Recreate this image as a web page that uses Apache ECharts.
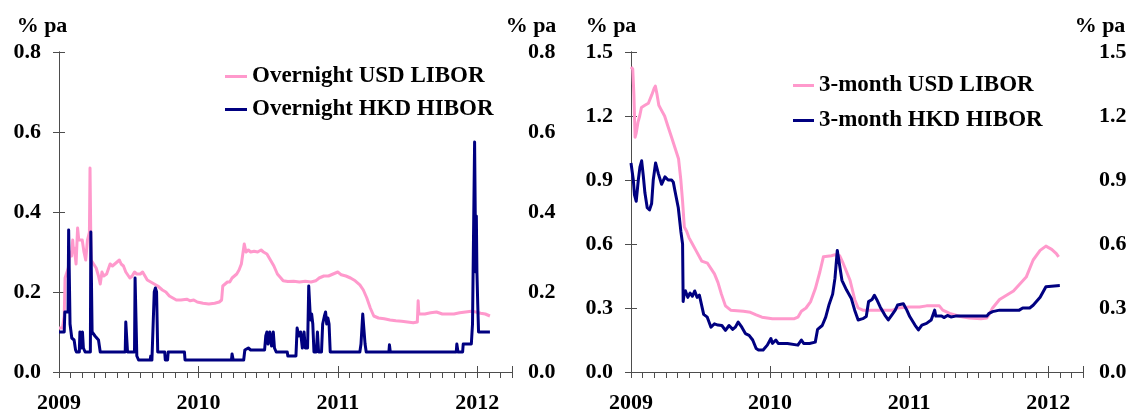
<!DOCTYPE html>
<html><head><meta charset="utf-8">
<script src="https://cdn.jsdelivr.net/npm/echarts@6.0.0/dist/echarts.min.js"></script>
<style>html,body{margin:0;padding:0;background:#fff}#c{width:1131px;height:412px}</style>
</head><body><div id="c"></div>
<script>
// x = months since 1 Jan 2009
const firstYear = 2009;
const xMaxMonths = 39;
const unitLabel = '% pa';
const leftAxisMax = 0.8, leftAxisStep = 0.2;
const rightAxisMax = 1.5, rightAxisStep = 0.3;
const seriesNames = ['Overnight USD LIBOR','Overnight HKD HIBOR','3-month USD LIBOR','3-month HKD HIBOR'];

const usdOvernight = [[0,0.11],[0.3,0.11],[0.45,0.14],[0.52,0.235],[0.65,0.23],[0.8,0.26],[0.95,0.3],[1.09,0.29],[1.18,0.33],[1.25,0.3],[1.32,0.31],[1.47,0.27],[1.6,0.36],[1.7,0.33],[1.85,0.33],[2.0,0.33],[2.15,0.3],[2.3,0.28],[2.45,0.33],[2.62,0.35],[2.67,0.51],[2.72,0.51],[2.76,0.28],[2.98,0.27],[3.2,0.26],[3.4,0.24],[3.55,0.22],[3.7,0.25],[3.85,0.24],[4.1,0.245],[4.4,0.27],[4.6,0.265],[4.8,0.27],[5.0,0.275],[5.2,0.28],[5.35,0.27],[5.55,0.265],[5.75,0.25],[5.9,0.245],[6.1,0.235],[6.3,0.24],[6.5,0.25],[6.7,0.245],[7.0,0.245],[7.2,0.25],[7.4,0.24],[7.6,0.23],[7.9,0.225],[8.2,0.22],[8.5,0.215],[8.9,0.205],[9.2,0.2],[9.5,0.19],[9.8,0.185],[10.1,0.18],[10.5,0.18],[11.0,0.182],[11.3,0.178],[11.6,0.18],[11.9,0.175],[12.4,0.172],[12.9,0.17],[13.4,0.172],[13.8,0.175],[14.0,0.18],[14.1,0.215],[14.3,0.22],[14.5,0.225],[14.7,0.225],[14.9,0.235],[15.1,0.24],[15.3,0.245],[15.5,0.255],[15.7,0.27],[15.85,0.3],[15.95,0.32],[16.1,0.3],[16.3,0.305],[16.5,0.3],[16.8,0.302],[17.1,0.3],[17.4,0.305],[17.6,0.3],[17.9,0.295],[18.2,0.28],[18.5,0.265],[18.8,0.245],[19.1,0.235],[19.3,0.228],[19.7,0.226],[20.2,0.227],[20.7,0.225],[21.2,0.227],[21.7,0.225],[22.1,0.228],[22.4,0.235],[22.8,0.24],[23.2,0.24],[23.6,0.245],[24.0,0.25],[24.3,0.243],[24.7,0.24],[25.1,0.235],[25.5,0.228],[25.9,0.218],[26.2,0.205],[26.5,0.185],[26.8,0.16],[27.1,0.14],[27.5,0.135],[28.0,0.133],[28.5,0.13],[29.0,0.128],[29.5,0.127],[30.0,0.125],[30.5,0.123],[30.85,0.125],[30.92,0.178],[30.98,0.145],[31.5,0.145],[32.0,0.148],[32.5,0.15],[33.0,0.145],[33.5,0.145],[34.0,0.145],[34.5,0.148],[35.0,0.15],[35.5,0.152],[35.9,0.15],[36.3,0.147],[36.7,0.145],[37.1,0.14]];

const hkdOvernight = [[0,0.1],[0.45,0.1],[0.5,0.15],[0.78,0.15],[0.83,0.355],[0.9,0.355],[0.95,0.12],[1.1,0.085],[1.3,0.08],[1.42,0.056],[1.5,0.05],[1.75,0.05],[1.8,0.1],[1.88,0.1],[1.93,0.06],[2.02,0.1],[2.1,0.06],[2.25,0.05],[2.7,0.05],[2.74,0.35],[2.8,0.35],[2.85,0.1],[3.1,0.09],[3.4,0.08],[3.55,0.05],[5.7,0.05],[5.75,0.125],[5.85,0.125],[5.9,0.05],[6.5,0.05],[6.55,0.235],[6.62,0.235],[6.7,0.04],[6.85,0.03],[7.85,0.03],[7.9,0.04],[8.0,0.03],[8.15,0.03],[8.2,0.2],[8.3,0.21],[8.4,0.2],[8.5,0.05],[9.1,0.05],[9.15,0.03],[9.35,0.03],[9.4,0.05],[10.8,0.05],[10.85,0.03],[14.85,0.03],[14.9,0.045],[15.0,0.03],[15.9,0.03],[16.0,0.055],[16.3,0.06],[16.5,0.055],[17.7,0.055],[17.8,0.09],[17.9,0.1],[18.0,0.07],[18.15,0.1],[18.3,0.065],[18.45,0.1],[18.55,0.06],[18.7,0.05],[19.65,0.05],[19.7,0.04],[20.4,0.04],[20.5,0.11],[20.65,0.09],[20.8,0.1],[20.95,0.06],[21.1,0.1],[21.2,0.06],[21.4,0.06],[21.5,0.215],[21.57,0.215],[21.65,0.13],[21.75,0.145],[21.85,0.12],[21.95,0.05],[22.15,0.05],[22.25,0.1],[22.35,0.05],[22.6,0.05],[22.7,0.12],[22.85,0.14],[22.95,0.15],[23.05,0.12],[23.15,0.135],[23.25,0.12],[23.35,0.05],[25.9,0.05],[26.0,0.07],[26.15,0.145],[26.25,0.14],[26.35,0.07],[26.45,0.05],[28.4,0.05],[28.45,0.068],[28.52,0.05],[34.2,0.05],[34.25,0.07],[34.35,0.05],[34.75,0.05],[34.8,0.07],[35.5,0.07],[35.6,0.12],[35.72,0.12],[35.78,0.575],[35.84,0.575],[35.88,0.25],[35.93,0.39],[35.98,0.25],[36.05,0.17],[36.12,0.1],[37.1,0.1]];

const usd3m = [[0,1.43],[0.15,1.42],[0.25,1.3],[0.35,1.1],[0.45,1.12],[0.6,1.17],[0.75,1.2],[0.9,1.24],[1.2,1.25],[1.5,1.26],[1.8,1.3],[2.0,1.33],[2.1,1.34],[2.25,1.3],[2.4,1.25],[2.6,1.23],[2.9,1.2],[3.2,1.15],[3.5,1.1],[3.8,1.05],[4.1,1.0],[4.3,0.9],[4.45,0.8],[4.6,0.68],[4.8,0.66],[5.0,0.63],[5.3,0.6],[5.6,0.57],[6.1,0.52],[6.6,0.51],[7.2,0.46],[7.5,0.42],[7.8,0.365],[8.15,0.31],[8.6,0.29],[9.7,0.285],[10.3,0.28],[10.8,0.268],[11.3,0.257],[12.2,0.25],[14.1,0.25],[14.4,0.257],[14.7,0.285],[15.1,0.3],[15.5,0.33],[15.9,0.39],[16.3,0.47],[16.6,0.54],[17.3,0.545],[17.6,0.55],[18.0,0.545],[18.3,0.51],[18.9,0.43],[19.3,0.34],[19.6,0.3],[20.0,0.29],[21.0,0.29],[22.0,0.29],[22.6,0.29],[23.0,0.3],[24.0,0.305],[24.9,0.305],[25.5,0.31],[26.6,0.31],[26.9,0.29],[27.5,0.275],[28.4,0.26],[29.2,0.253],[30.2,0.25],[30.7,0.253],[30.9,0.27],[31.2,0.3],[31.8,0.34],[33.0,0.38],[34.1,0.445],[34.7,0.525],[35.3,0.57],[35.8,0.59],[36.3,0.575],[36.7,0.555],[36.9,0.54]];

const hkd3m = [[0,0.98],[0.2,0.9],[0.3,0.83],[0.45,0.8],[0.63,0.9],[0.77,0.96],[0.92,0.99],[1.06,0.92],[1.2,0.84],[1.4,0.77],[1.6,0.76],[1.78,0.79],[1.92,0.9],[2.12,0.98],[2.36,0.93],[2.64,0.88],[2.93,0.915],[3.2,0.9],[3.5,0.9],[3.65,0.89],[3.79,0.85],[4.08,0.77],[4.3,0.66],[4.45,0.6],[4.5,0.33],[4.6,0.37],[4.7,0.38],[4.9,0.35],[5.1,0.37],[5.3,0.355],[5.5,0.38],[5.7,0.35],[5.9,0.36],[6.0,0.365],[6.27,0.27],[6.58,0.257],[6.9,0.21],[7.2,0.226],[7.5,0.22],[7.84,0.218],[8.15,0.195],[8.46,0.218],[8.78,0.2],[9.0,0.21],[9.25,0.234],[9.56,0.21],[9.87,0.18],[10.19,0.172],[10.5,0.15],[10.8,0.11],[11.0,0.103],[11.4,0.103],[11.76,0.126],[12.07,0.157],[12.2,0.134],[12.5,0.15],[12.7,0.134],[13.5,0.134],[14.4,0.126],[14.7,0.15],[14.9,0.134],[15.4,0.134],[15.9,0.14],[16.1,0.2],[16.5,0.218],[16.8,0.257],[17.1,0.318],[17.4,0.365],[17.6,0.44],[17.8,0.57],[18.0,0.5],[18.2,0.43],[18.6,0.384],[19.0,0.346],[19.3,0.29],[19.6,0.244],[20.0,0.25],[20.3,0.26],[20.5,0.33],[20.8,0.34],[21.0,0.36],[21.2,0.34],[21.5,0.305],[21.9,0.267],[22.2,0.244],[22.5,0.267],[22.8,0.29],[23.0,0.314],[23.5,0.32],[23.8,0.29],[24.05,0.26],[24.5,0.22],[24.8,0.197],[25.1,0.22],[25.5,0.228],[25.9,0.244],[26.2,0.29],[26.3,0.262],[26.8,0.262],[27.0,0.255],[27.3,0.265],[27.6,0.258],[28.0,0.262],[29.0,0.262],[30.7,0.262],[30.9,0.275],[31.2,0.283],[31.8,0.29],[33.5,0.29],[33.8,0.3],[34.4,0.3],[34.7,0.313],[35.3,0.35],[35.8,0.4],[37.0,0.405]];

const PINK = '#FF99CC', NAVY = '#000080', AXIS = '#4d4d4d';
const FONT = "'Liberation Serif', 'Times New Roman', serif";
const txt = {fontFamily: FONT, fontSize: 22, fontWeight: 'bold', color: '#000'};

function monthAxis(gi) {
  return {
    type: 'value', gridIndex: gi, position: 'bottom', offset: 0, min: 0, max: xMaxMonths, interval: 1,
    axisLine: {show: true, onZero: false, lineStyle: {color: AXIS, width: 1}},
    axisTick: {show: true, inside: false, length: 6, lineStyle: {color: AXIS, width: 1}},
    splitLine: {show: false},
    axisLabel: Object.assign({margin: 20, hideOverlap: false, showMinLabel: true, showMaxLabel: true,
      formatter: v => (Math.round(v) % 12 === 0 ? String(firstYear + Math.round(v) / 12) : '')}, txt)
  };
}
function yearTickAxis(gi) {
  return {
    type: 'value', gridIndex: gi, position: 'bottom', offset: 0, min: 0, max: xMaxMonths, interval: 12,
    axisLine: {show: false, onZero: false},
    axisTick: {show: true, inside: true, length: 6, lineStyle: {color: AXIS, width: 1}},
    axisLabel: {show: false}, splitLine: {show: false}
  };
}
function yAxis(gi, pos, max, step, margin) {
  return {
    type: 'value', gridIndex: gi, position: pos, offset: 0, min: 0, max: max, interval: step,
    axisLine: {show: true, lineStyle: {color: AXIS, width: 1}},
    axisTick: {show: true, inside: false, length: 6, lineStyle: {color: AXIS, width: 1}},
    splitLine: {show: false},
    axisLabel: Object.assign({margin: margin, formatter: v => v.toFixed(1)}, txt)
  };
}
function line(name, data, color, xi, yi) {
  return {name, type: 'line', data, xAxisIndex: xi, yAxisIndex: yi, symbol: 'none', showSymbol: false,
    lineStyle: {color, width: 3, join: 'round'}, itemStyle: {color}, animation: false};
}
function label(text, x) {
  return {type: 'text', x: x, y: 26, style: {text, textAlign: 'center', textVerticalAlign: 'middle',
    font: "bold 22px 'Liberation Serif', 'Times New Roman', serif", fill: '#000'}};
}
const legendText = Object.assign({}, txt, {fontSize: 23, lineHeight: 25});

const chart = echarts.init(document.getElementById('c'), null, {renderer: 'canvas'});
chart.setOption({
  animation: false,
  backgroundColor: '#fff',
  grid: [
    {left: 59, right: 1131 - 512, top: 52, bottom: 40, containLabel: false, outerBoundsMode: 'none'},
    {left: 631, right: 1131 - 1083, top: 52, bottom: 40, containLabel: false, outerBoundsMode: 'none'}
  ],
  xAxis: [monthAxis(0), yearTickAxis(0), monthAxis(1), yearTickAxis(1)],
  yAxis: [yAxis(0, 'left', leftAxisMax, leftAxisStep, 18), yAxis(0, 'right', leftAxisMax, leftAxisStep, 16),
          yAxis(1, 'left', rightAxisMax, rightAxisStep, 18), yAxis(1, 'right', rightAxisMax, rightAxisStep, 16)],
  legend: [
    {data: [seriesNames[0], seriesNames[1]], orient: 'vertical', left: 225, top: 64, padding: 0,
     icon: 'rect', itemWidth: 22, itemHeight: 3, itemGap: 8, selectedMode: false, textStyle: legendText},
    {data: [seriesNames[2], seriesNames[3]], orient: 'vertical', left: 793, top: 73, padding: 0,
     icon: 'rect', itemWidth: 21, itemHeight: 3, itemGap: 10, selectedMode: false, textStyle: legendText}
  ],
  graphic: [label(unitLabel, 42), label(unitLabel, 531), label(unitLabel, 611), label(unitLabel, 1100)],
  series: [
    line(seriesNames[0], usdOvernight, PINK, 0, 0),
    line(seriesNames[1], hkdOvernight, NAVY, 0, 0),
    line(seriesNames[2], usd3m, PINK, 2, 2),
    line(seriesNames[3], hkd3m, NAVY, 2, 2)
  ]
});
</script></body></html>
